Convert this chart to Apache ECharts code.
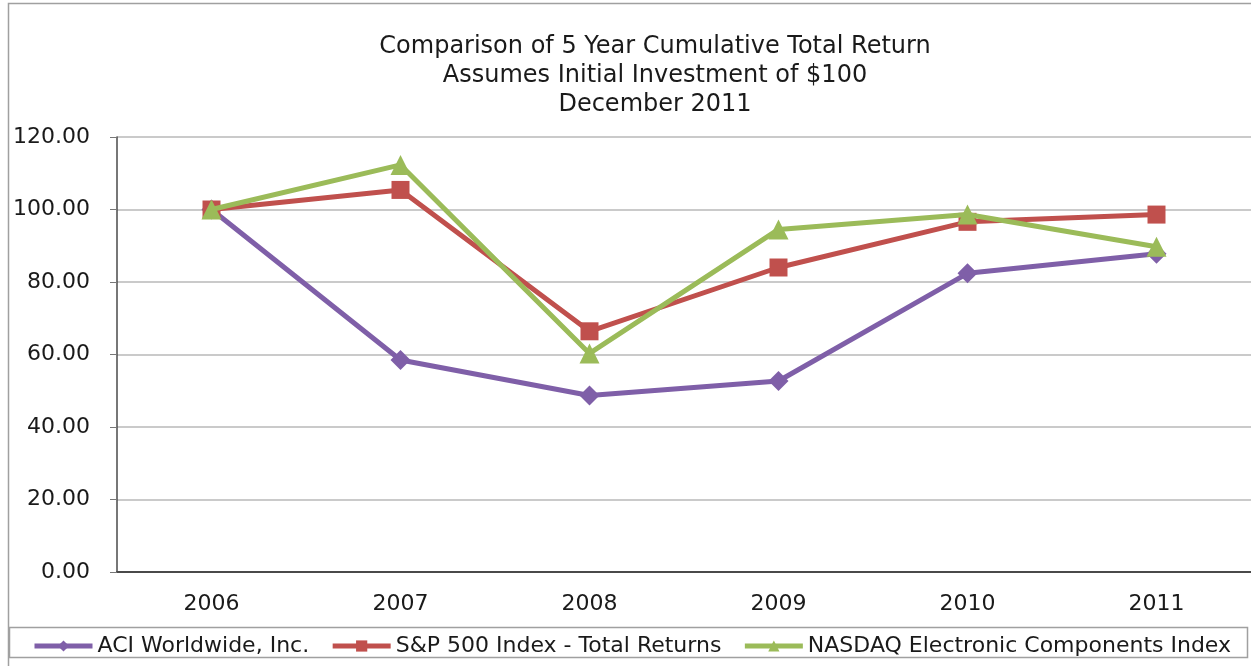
<!DOCTYPE html>
<html>
<head>
<meta charset="utf-8">
<script src="https://cdn.jsdelivr.net/npm/echarts@6/dist/echarts.min.js"></script>
<style>
html,body{margin:0;padding:0;background:#fff;}
#chart{width:1251px;height:666px;}
</style>
</head>
<body>
<div id="chart"></div>
<script>
const categories = ['2006', '2007', '2008', '2009', '2010', '2011'];
const aciValues = [100, 58.5, 48.7, 52.7, 82.4, 87.8];
const spValues = [100, 105.4, 66.4, 84.0, 96.6, 98.6];
const nasdaqValues = [100, 112.3, 60.3, 94.5, 98.6, 89.7];
const titleLines = ['Comparison of 5 Year Cumulative Total Return', 'Assumes Initial Investment of $100', 'December 2011'];
const seriesNames = ['ACI Worldwide, Inc.', 'S&P 500 Index - Total Returns', 'NASDAQ Electronic Components Index'];

const FONT = '"DejaVu Sans", "Liberation Sans", Arial, sans-serif';
const chart = echarts.init(document.getElementById('chart'));

chart.setOption({
  animation: false,
  backgroundColor: '#fff',
  textStyle: { fontFamily: FONT },
  title: {
    text: titleLines.join('\n'),
    left: 650,
    top: 27,
    textAlign: 'center',
    textStyle: { fontFamily: FONT, fontSize: 24, fontWeight: 'normal', color: '#1a1a1a', lineHeight: 29 }
  },
  graphic: [
    { type: 'rect', z: -10, shape: { x: 8.5, y: 3.5, width: 1300, height: 700 }, style: { fill: 'none', stroke: '#a0a0a0', lineWidth: 1.5 } },
    { type: 'rect', z: -10, shape: { x: 9.5, y: 627.5, width: 1238, height: 30 }, style: { fill: '#fff', stroke: '#a0a0a0', lineWidth: 1.5 } }
  ],
  legend: {
    left: 27,
    top: 630,
    itemWidth: 58,
    itemHeight: 14,
    itemGap: 21,
    textStyle: { fontFamily: FONT, fontSize: 22, color: '#1a1a1a' },
    lineStyle: { width: 5 },
    data: seriesNames
  },
  grid: { left: 117, top: 137, width: 1142, height: 435 },
  xAxis: {
    type: 'category',
    data: categories,
    boundaryGap: true,
    axisLine: { lineStyle: { color: '#4a4a4a', width: 2 } },
    axisTick: { alignWithLabel: true, inside: true, length: 4, lineStyle: { color: '#777' } },
    axisLabel: { fontFamily: FONT, fontSize: 22, color: '#1a1a1a', margin: 21 }
  },
  yAxis: {
    type: 'value',
    min: 0,
    max: 120,
    interval: 20,
    axisLine: { show: true, lineStyle: { color: '#4a4a4a', width: 1.5 } },
    axisTick: { show: true, length: 7, lineStyle: { color: '#777' } },
    axisLabel: { fontFamily: FONT, fontSize: 22, color: '#1a1a1a', margin: 27, formatter: v => v.toFixed(2) },
    splitLine: { lineStyle: { color: '#b8b8b8', width: 1.5 } }
  },
  series: [
    {
      name: seriesNames[0], type: 'line', data: aciValues,
      symbol: 'diamond', symbolSize: 20, z: 3,
      itemStyle: { color: '#7f5fa8' },
      lineStyle: { color: '#7f5fa8', width: 5 }
    },
    {
      name: seriesNames[1], type: 'line', data: spValues,
      symbol: 'rect', symbolSize: 18, z: 4,
      itemStyle: { color: '#c0504d' },
      lineStyle: { color: '#c0504d', width: 5 }
    },
    {
      name: seriesNames[2], type: 'line', data: nasdaqValues,
      symbol: 'triangle', symbolSize: 20, z: 5,
      itemStyle: { color: '#9bbb59' },
      lineStyle: { color: '#9bbb59', width: 5 }
    }
  ]
});
</script>
</body>
</html>
